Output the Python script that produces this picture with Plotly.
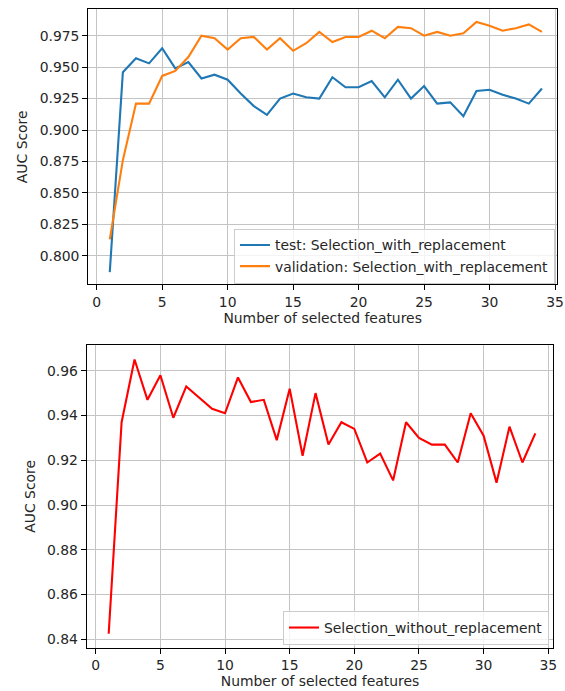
import plotly.graph_objects as go

n_features = list(range(1, 35))

test_with_replacement = [0.787, 0.946, 0.957, 0.953, 0.965, 0.949, 0.954, 0.941, 0.944, 0.940,
                         0.929, 0.919, 0.912, 0.925, 0.929, 0.926, 0.925, 0.942, 0.934, 0.934,
                         0.939, 0.926, 0.940, 0.925, 0.935, 0.921, 0.922, 0.911, 0.931, 0.932,
                         0.928, 0.925, 0.921, 0.933]

validation_with_replacement = [0.813, 0.876, 0.921, 0.921, 0.943, 0.947, 0.958, 0.975, 0.973, 0.964,
                               0.973, 0.974, 0.964, 0.973, 0.963, 0.969, 0.978, 0.970, 0.974, 0.974,
                               0.979, 0.973, 0.982, 0.981, 0.975, 0.978, 0.975, 0.977, 0.986, 0.983,
                               0.979, 0.981, 0.984, 0.978]

without_replacement = [0.8425, 0.937, 0.965, 0.947, 0.958, 0.939, 0.953, 0.948, 0.943, 0.941,
                       0.957, 0.946, 0.947, 0.929, 0.952, 0.922, 0.950, 0.927, 0.937, 0.934,
                       0.919, 0.923, 0.911, 0.937, 0.930, 0.927, 0.927, 0.919, 0.941, 0.931,
                       0.910, 0.935, 0.919, 0.932]

labels_top = ["test: Selection_with_replacement", "validation: Selection_with_replacement"]
label_bottom = "Selection_without_replacement"
x_title = "Number of selected features"
y_title = "AUC Score"

W, H = 565, 691
FONT = "DejaVu Sans"
FS = 13.9
TXT = "#262626"
GRID = "#c4c4c4"

fig = go.Figure()
fig.add_trace(go.Scatter(x=n_features, y=test_with_replacement, mode="lines", name=labels_top[0],
                         line=dict(color="#1f77b4", width=2.1), xaxis="x", yaxis="y", legend="legend"))
fig.add_trace(go.Scatter(x=n_features, y=validation_with_replacement, mode="lines", name=labels_top[1],
                         line=dict(color="#ff7f0e", width=2.1), xaxis="x", yaxis="y", legend="legend"))
fig.add_trace(go.Scatter(x=n_features, y=without_replacement, mode="lines", name=label_bottom,
                         line=dict(color="#ff0000", width=2.1), xaxis="x2", yaxis="y2", legend="legend2"))

common_axis = dict(showline=True, linecolor="black", linewidth=1.1, mirror=True,
                   showgrid=True, gridcolor=GRID, gridwidth=1.1, zeroline=False,
                   ticks="outside", ticklen=5, tickwidth=1.1, tickcolor="black",
                   tickfont=dict(family=FONT, size=FS, color=TXT), automargin=False,
                   title_font=dict(family=FONT, size=FS, color=TXT))

fig.update_layout(
    width=W, height=H,
    margin=dict(l=0, r=0, t=0, b=0),
    paper_bgcolor="white", plot_bgcolor="white",
    font=dict(family=FONT, size=FS, color=TXT),
    xaxis=dict(common_axis, domain=[88.3 / W, 557 / W], anchor="y", range=[-0.64, 35.15],
               tick0=0, dtick=5, title=dict(text=x_title, standoff=2)),
    yaxis=dict(common_axis, domain=[(H - 284.3) / H, (H - 9.3) / H], anchor="x",
               range=[0.7773, 0.9960], tick0=0.8, dtick=0.025, tickformat=".3f",
               title=dict(text=y_title, standoff=8)),
    xaxis2=dict(common_axis, domain=[86.7 / W, 553.3 / W], anchor="y2", range=[-0.70, 35.39],
                tick0=0, dtick=5, title=dict(text=x_title, standoff=3)),
    yaxis2=dict(common_axis, domain=[(H - 647.7) / H, (H - 345) / H], anchor="x2",
                range=[0.83625, 0.9715], tick0=0.84, dtick=0.02, tickformat=".2f",
                title=dict(text=y_title, standoff=8)),
    legend=dict(x=555 / W, y=(H - 256) / H, xanchor="right", yanchor="middle",
                bgcolor="rgba(255,255,255,0.8)", bordercolor="#cccccc", borderwidth=1,
                font=dict(family=FONT, size=FS, color=TXT)),
    legend2=dict(x=549 / W, y=(H - 628) / H, xanchor="right", yanchor="middle",
                 bgcolor="rgba(255,255,255,0.8)", bordercolor="#cccccc", borderwidth=1,
                 font=dict(family=FONT, size=FS, color=TXT)),
    showlegend=True,
)

fig.write_html("out.html", config={"displayModeBar": False},
               post_script="document.body.style.margin='0px';document.body.style.overflow='hidden';")
